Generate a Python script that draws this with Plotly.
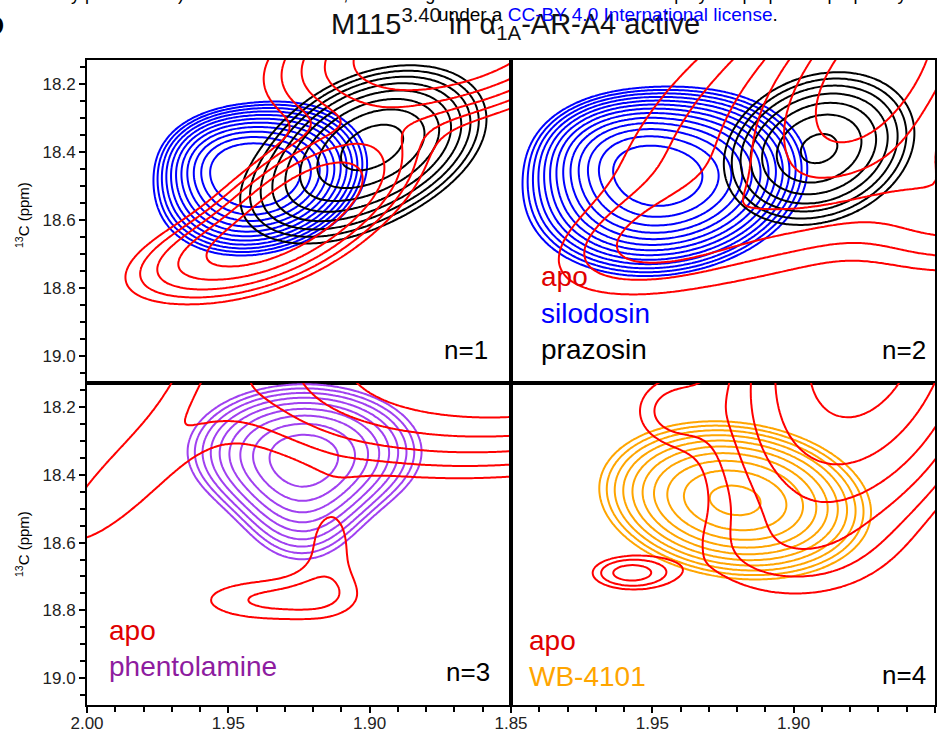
import numpy as np
import plotly.graph_objects as go

# ---------------- axes / ticks ----------------
x_range = [2.00, 1.85]
y_range = [19.08, 18.128]
x_tick_vals = [2.00, 1.95, 1.90, 1.85]
x_tick_text = ["2.00", "1.95", "1.90", "1.85"]
x_tick_vals_right = [1.95, 1.90, 1.85]
x_tick_text_right = ["1.95", "1.90", "1.85"]
y_tick_vals = [18.2, 18.4, 18.6, 18.8, 19.0]
y_tick_text = ["18.2", "18.4", "18.6", "18.8", "19.0"]

# spectral grid (1H ppm, 13C ppm)
h_ppm = np.round(np.arange(1.835, 2.0151, 0.001), 4)
c_ppm = np.round(np.arange(17.95, 19.2001, 0.005), 4)

# ---------------- peak lists ----------------
# (1H centre, 13C centre, 1H width, 13C width, tilt, height)
apo_n1 = [
    (1.872, 18.08, 0.030, 0.12, 0.40, 1.30),
    (1.922, 18.55, 0.020, 0.12, 0.60, 1.10),
    (1.952, 18.70, 0.020, 0.08, 0.50, 0.50),
]
silodosin_n1 = [
    (1.938, 18.48, 0.0165, 0.100, 0.20, 1.00),
    (1.950, 18.42, 0.012, 0.070, 0.00, 0.35),
]
prazosin_n1 = [
    (1.897, 18.37, 0.017, 0.100, 0.30, 1.00),
    (1.915, 18.50, 0.018, 0.100, 0.30, 0.30),
]

apo_n2 = [
    (1.870, 18.15, 0.022, 0.22, 0.60, 0.75),
    (1.885, 18.25, 0.060, 0.38, 0.60, 0.35),
    (1.945, 18.65, 0.025, 0.10, 0.50, 0.20),
    (1.840, 18.55, 0.025, 0.15, 0.00, 0.30),
]
silodosin_n2 = [
    (1.945, 18.49, 0.021, 0.116, 0.15, 1.00),
    (1.960, 18.40, 0.015, 0.080, 0.00, 0.35),
]
prazosin_n2 = [
    (1.891, 18.39, 0.015, 0.100, 0.20, 1.00),
]

apo_n3 = [
    (1.845, 18.02, 0.060, 0.20, 0.20, 1.00),
    (1.990, 18.45, 0.025, 0.20, 0.80, 0.19),
    (1.935, 18.77, 0.024, 0.060, 0.00, 0.22),
    (1.914, 18.62, 0.010, 0.120, 0.00, 0.16),
]
phentolamine_n3 = [
    (1.923, 18.33, 0.023, 0.11, 0.00, 1.00),
    (1.924, 18.50, 0.014, 0.12, 0.00, 0.40),
]

apo_n4 = [
    (1.875, 18.00, 0.030, 0.35, 0.30, 1.00),
    (1.958, 18.69, 0.010, 0.035, 0.00, 0.32),
    (1.9445, 18.21, 0.011, 0.080, 0.00, 0.18),
    (1.910, 18.64, 0.030, 0.100, 0.00, 0.10),
]
wb4101_n4 = [
    (1.9207, 18.475, 0.0224, 0.109, -0.15, 1.00),
]

# contour levels: (lowest level, ratio between levels, number of levels)
levels_apo_n1 = (0.12, 1.55, 5)
levels_apo_n2 = (0.15, 1.40, 6)
levels_apo_n3 = (0.15, 1.40, 5)
levels_apo_n4 = (0.15, 1.40, 6)
levels_silodosin_n1 = (0.08, 1.25, 11)
levels_prazosin_n1 = (0.08, 1.42, 8)
levels_silodosin_n2 = (0.06, 1.25, 13)
levels_prazosin_n2 = (0.08, 1.50, 7)
levels_phentolamine = (0.20, 1.22, 9)
levels_wb4101 = (0.10, 1.28, 10)

RED = "#FF0000"
BLUE = "#0000FF"
BLACK = "#000000"
PURPLE = "#A040F0"
ORANGE = "#FFA500"

FONT = "Liberation Sans, Arial, sans-serif"


def spectrum(peaks):
    H, C = np.meshgrid(h_ppm, c_ppm)
    z = np.zeros_like(H)
    for cx, cy, sx, sy, rho, amp in peaks:
        dx = (H - cx) / sx
        dy = (C - cy) / sy
        q = (dx * dx - 2 * rho * dx * dy + dy * dy) / (1 - rho * rho)
        z += amp * np.exp(-0.5 * q)
    return np.round(np.log(np.maximum(z, 1e-6)), 3)


def contour(peaks, levels, color, xa, ya):
    low, ratio, n = levels
    start = np.log(low)
    step = np.log(ratio)
    return go.Contour(
        x=h_ppm, y=c_ppm, z=spectrum(peaks),
        contours=dict(start=start, end=start + step * (n - 1) + 1e-6,
                      size=step, coloring="lines", showlabels=False),
        line=dict(width=2, smoothing=1),
        colorscale=[[0, color], [1, color]],
        showscale=False, hoverinfo="skip",
        xaxis=xa, yaxis=ya,
    )


fig = go.Figure()
panels = [
    ("x", "y", [(silodosin_n1, levels_silodosin_n1, BLUE),
                (prazosin_n1, levels_prazosin_n1, BLACK),
                (apo_n1, levels_apo_n1, RED)]),
    ("x2", "y2", [(silodosin_n2, levels_silodosin_n2, BLUE),
                  (prazosin_n2, levels_prazosin_n2, BLACK),
                  (apo_n2, levels_apo_n2, RED)]),
    ("x3", "y3", [(phentolamine_n3, levels_phentolamine, PURPLE),
                  (apo_n3, levels_apo_n3, RED)]),
    ("x4", "y4", [(wb4101_n4, levels_wb4101, ORANGE),
                  (apo_n4, levels_apo_n4, RED)]),
]
for xa, ya, specs in panels:
    for peaks, lev, col in specs:
        fig.add_trace(contour(peaks, lev, col, xa, ya))

W, H = 939, 736
xl = [87 / W, 511 / W]
xr = [511 / W, 935 / W]
yt = [1 - 383 / H, 1 - 59.5 / H]
yb = [1 - 705 / H, 1 - 383 / H]

base = dict(showline=True, linecolor="black", linewidth=2, mirror=True,
            showgrid=False, zeroline=False, automargin=False,
            tickfont=dict(family=FONT, size=17, color="#222"))

def xaxis(dom, anchor, labels, vals=None, text=None):
    d = dict(base, domain=dom, anchor=anchor, range=x_range)
    if labels:
        d.update(ticks="outside", ticklen=6, tickwidth=1.5, tickcolor="black",
                 tickvals=vals, ticktext=text, ticklabelstandoff=-4,
                 minor=dict(ticks="outside", ticklen=5, tickwidth=1.5,
                            tickcolor="black", dtick=0.01, tick0=1.85))
    else:
        d.update(ticks="", showticklabels=False)
    return d

def yaxis(dom, anchor, labels):
    d = dict(base, domain=dom, anchor=anchor, range=y_range)
    if labels:
        d.update(ticks="outside", ticklen=6, tickwidth=1.5, tickcolor="black",
                 tickvals=y_tick_vals, ticktext=y_tick_text,
                 minor=dict(ticks="outside", ticklen=5, tickwidth=1.5,
                            tickcolor="black", dtick=0.05, tick0=18.2))
    else:
        d.update(ticks="", showticklabels=False)
    return d

fig.update_layout(
    width=W, height=H, margin=dict(l=0, r=0, t=0, b=0, autoexpand=False),
    paper_bgcolor="white", plot_bgcolor="white", showlegend=False,
    xaxis=xaxis(xl, "y", False),
    yaxis=yaxis(yt, "x", True),
    xaxis2=xaxis(xr, "y2", False),
    yaxis2=yaxis(yt, "x2", False),
    xaxis3=xaxis(xl, "y3", True, x_tick_vals, x_tick_text),
    yaxis3=yaxis(yb, "x3", True),
    xaxis4=xaxis(xr, "y4", True, x_tick_vals_right, x_tick_text_right),
    yaxis4=yaxis(yb, "x4", False),
)

def ann(text, px, py, size, color="black", xanchor="left", yanchor="middle", angle=0, **kw):
    fig.add_annotation(text=text, x=px / W, y=1 - py / H, xref="paper", yref="paper",
                       showarrow=False, xanchor=xanchor, yanchor=yanchor, textangle=angle,
                       font=dict(family=FONT, size=size, color=color), **kw)

# header texts
ann("certified by peer review) is the author/funder, who has granted bioRxiv a license to display the preprint in perpetuity. It is made",
    -9, 6, 18, xanchor="left", yanchor="bottom")
ann("<b>D</b>", 6, 26, 28, xanchor="right")
ann("M115<sup>3.40</sup> in α<sub>1A</sub>-AR-A4 active", 515, 24, 29, color="#111", xanchor="center")
ann("under a <span style='color:#0000FF'>CC-BY 4.0 International license</span>.",
    436, 15, 19, xanchor="left")

# y axis titles
ann("<sup>13</sup>C (ppm)", 22, 215, 15, xanchor="center", angle=-90)
ann("<sup>13</sup>C (ppm)", 22, 544, 15, xanchor="center", angle=-90)

# panel labels
ann("n=1", 490, 350, 26, xanchor="right")
ann("n=2", 928, 350, 26, xanchor="right")
ann("n=3", 492, 672, 26, xanchor="right")
ann("n=4", 928, 675, 26, xanchor="right")
ann("apo", 539, 276, 28, color="#E00000")
ann("silodosin", 539, 313, 28, color=BLUE)
ann("prazosin", 539, 349, 28, color=BLACK)
ann("apo", 107, 630, 28, color="#E00000")
ann("phentolamine", 107, 666, 28, color="#8E1CA0")
ann("apo", 527, 640, 28, color="#E00000")
ann("WB-4101", 527, 676, 28, color=ORANGE)

fig.write_html("out.html", config={"displayModeBar": False},
               post_script="document.body.style.margin='0px';")
